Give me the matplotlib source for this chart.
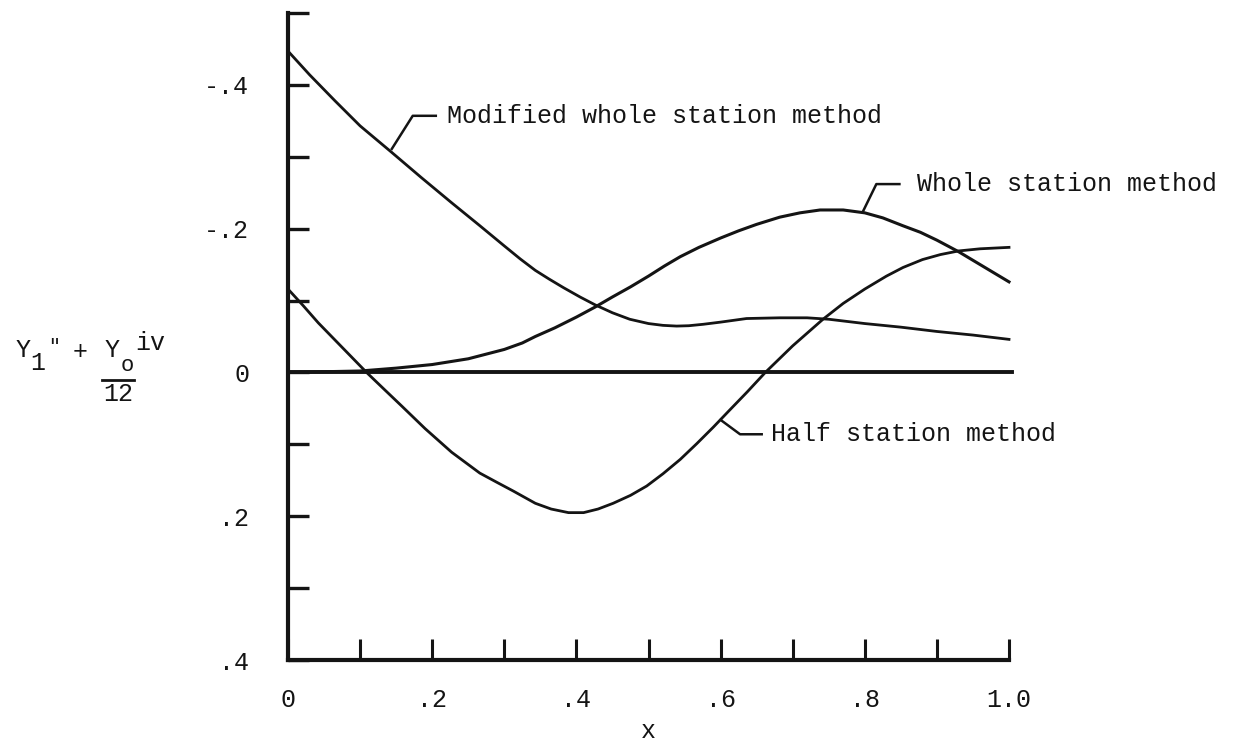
import numpy as np
import matplotlib.pyplot as plt
from matplotlib.ticker import FixedLocator

plt.rc('font', family=['Liberation Mono', 'DejaVu Sans Mono'])

# curve readings (x, value); the y axis is drawn inverted, as in the original
mod_x = [0.0, 0.03, 0.065, 0.1, 0.144, 0.185, 0.227, 0.265, 0.3, 0.322,
         0.343, 0.362, 0.382, 0.405, 0.426, 0.45, 0.474, 0.5, 0.52, 0.539,
         0.556, 0.576, 0.6, 0.636, 0.682, 0.72, 0.75, 0.8, 0.85, 0.9, 0.95,
         1.0]
mod_y = [-0.447, -0.414, -0.378, -0.343, -0.306, -0.271, -0.236, -0.205,
         -0.176, -0.158, -0.142, -0.130, -0.118, -0.105, -0.094, -0.083,
         -0.074, -0.068, -0.0655, -0.0645, -0.065, -0.067, -0.070, -0.075,
         -0.076, -0.076, -0.074, -0.068, -0.063, -0.057, -0.052, -0.046]

whole_x = [0.0, 0.1, 0.15, 0.2, 0.25, 0.3, 0.325, 0.343, 0.37, 0.4, 0.426,
           0.45, 0.475, 0.5, 0.522, 0.544, 0.57, 0.6, 0.625, 0.65, 0.682,
           0.71, 0.738, 0.77, 0.8, 0.825, 0.853, 0.877, 0.9, 0.93, 0.96,
           0.98, 1.0]
whole_y = [0.0, -0.002, -0.006, -0.011, -0.019, -0.032, -0.041, -0.050,
           -0.062, -0.077, -0.091, -0.105, -0.119, -0.134, -0.148, -0.161,
           -0.174, -0.187, -0.197, -0.206, -0.216, -0.222, -0.226, -0.226,
           -0.222, -0.215, -0.204, -0.195, -0.184, -0.168, -0.150, -0.138,
           -0.126]

half_x = [0.0, 0.021, 0.042, 0.075, 0.109, 0.135, 0.158, 0.19, 0.227, 0.266,
          0.29, 0.3125, 0.343, 0.365, 0.389, 0.41, 0.43, 0.451, 0.475,
          0.4975, 0.52, 0.544, 0.567, 0.59, 0.611, 0.637, 0.662, 0.7, 0.742,
          0.77, 0.8, 0.83, 0.853, 0.88, 0.905, 0.93, 0.96, 1.0]
half_y = [-0.116, -0.093, -0.069, -0.035, 0.0, 0.025, 0.047, 0.078, 0.111,
          0.140, 0.153, 0.165, 0.182, 0.190, 0.195, 0.195, 0.190, 0.182,
          0.171, 0.158, 0.141, 0.121, 0.099, 0.076, 0.054, 0.027, 0.0,
          -0.037, -0.074, -0.096, -0.116, -0.134, -0.146, -0.157, -0.164,
          -0.169, -0.172, -0.174]

labels = ["Modified whole station method", "Whole station method",
          "Half station method"]

xticks = [0.0, 0.1, 0.2, 0.3, 0.4, 0.5, 0.6, 0.7, 0.8, 0.9, 1.0]
xlabels = ["0", "", ".2", "", ".4", "", ".6", "", ".8", "", "1.0"]
yticks = [-0.5, -0.4, -0.3, -0.2, -0.1, 0.0, 0.1, 0.2, 0.3, 0.4]
ylabels = ["", "-.4", "", "-.2", "", "0", "", ".2", "", ".4"]

ink = '#141414'
fs = 18

fig = plt.figure(figsize=(12.38, 7.45), dpi=100)
ax = fig.add_axes([288/1238, 1 - 660/745, 721/1238, 647/745])

ax.plot([0, 1.004], [0, 0], color=ink, lw=2.8, clip_on=False)
ax.plot(mod_x, mod_y, color=ink, lw=2.0, clip_on=False)
ax.plot(whole_x, whole_y, color=ink, lw=2.2, clip_on=False)
ax.plot(half_x, half_y, color=ink, lw=2.0, clip_on=False)

# leader lines and curve names
leaders = [([0.144, 0.173, 0.205], [-0.311, -0.357, -0.357], 0.220, -0.357),
           ([0.797, 0.816, 0.848], [-0.223, -0.262, -0.262], 0.872, -0.262),
           ([0.600, 0.627, 0.657], [0.066, 0.086, 0.086], 0.670, 0.086)]
for (lx, ly, tx, ty), name in zip(leaders, labels):
    ax.plot(lx, ly, color=ink, lw=1.8, clip_on=False)
    ax.text(tx, ty, name, fontsize=fs, color=ink, ha='left', va='center',
            clip_on=False)

ax.set_xlim(0, 1.0)
ax.set_ylim(0.4, -0.5)

for s in ['top', 'right']:
    ax.spines[s].set_visible(False)
for s in ['left', 'bottom']:
    ax.spines[s].set_linewidth(3.0)
    ax.spines[s].set_color(ink)

ax.xaxis.set_major_locator(FixedLocator(xticks))
ax.set_xticklabels(xlabels)
ax.yaxis.set_major_locator(FixedLocator(yticks))
ax.set_yticklabels(ylabels)
ax.tick_params(axis='y', direction='in', length=15, width=2.4, color=ink,
               pad=28, labelsize=fs, labelcolor=ink)
ax.tick_params(axis='x', direction='in', length=15, width=2.2, color=ink,
               pad=20, labelsize=fs, labelcolor=ink)

ax.set_xlabel("x", fontsize=fs, color=ink, labelpad=5)


# y label built from pieces, positioned in pixels of the figure
def ftext(px, py, s, **kw):
    fig.text(px/1238, 1 - py/745, s, fontsize=kw.pop('size', fs), color=ink,
             ha='center', va='center', **kw)


ftext(23, 350, "Y")
ftext(38, 363, "1")
ftext(54, 346, '"', size=14)
ftext(80, 352, "+")
ftext(112, 350, "Y")
ftext(127, 365, "o", size=16)
ftext(150, 343, "iv")
ftext(118, 394, "12")
fig.add_artist(plt.Line2D([102/1238, 134/1238], [1 - 380/745, 1 - 380/745],
                          color=ink, lw=2.0))

fig.savefig('out.png', dpi=100, facecolor='white')
